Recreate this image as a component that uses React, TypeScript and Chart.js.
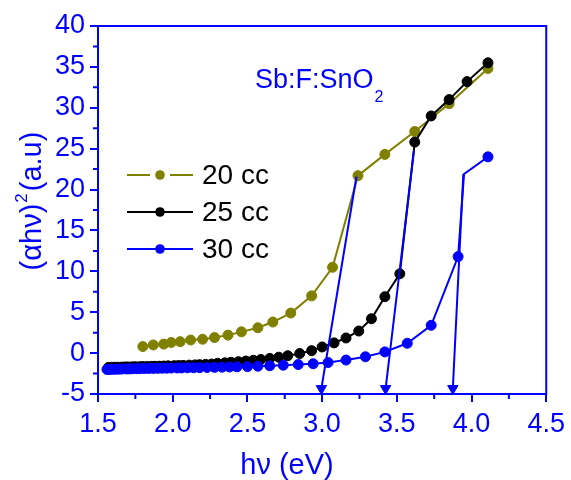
import React, { useEffect, useRef } from "react";
import { Chart, registerables } from "chart.js";

Chart.register(...registerables);

// ---------- data ----------
const energy20 = [1.80, 1.87, 1.94, 1.99, 2.05, 2.12, 2.20, 2.28, 2.37, 2.46, 2.57, 2.67, 2.79, 2.93, 3.07, 3.24, 3.42, 3.62, 3.85, 4.11];
const values20 = [0.8, 1.0, 1.1, 1.3, 1.4, 1.6, 1.7, 1.9, 2.2, 2.6, 3.1, 3.8, 4.9, 7.0, 10.5, 21.7, 24.3, 27.1, 30.5, 34.8];

const energy25 = [1.57, 1.59, 1.61, 1.63, 1.66, 1.68, 1.70, 1.73, 1.75, 1.78, 1.80, 1.83, 1.86, 1.88, 1.91, 1.94, 1.97, 2.01, 2.04, 2.07, 2.11, 2.15, 2.18, 2.22, 2.26, 2.30, 2.35, 2.39, 2.44, 2.49, 2.54, 2.59, 2.65, 2.71, 2.77, 2.85, 2.93, 3.00, 3.08, 3.16, 3.245, 3.33, 3.42, 3.52, 3.62, 3.73, 3.85, 3.97, 4.11];
const values25 = [-1.75, -1.74, -1.73, -1.72, -1.71, -1.70, -1.69, -1.68, -1.67, -1.66, -1.65, -1.64, -1.62, -1.61, -1.60, -1.58, -1.56, -1.54, -1.52, -1.50, -1.47, -1.44, -1.41, -1.38, -1.34, -1.25, -1.19, -1.12, -1.05, -0.97, -0.88, -0.78, -0.65, -0.50, -0.32, -0.05, 0.3, 0.75, 1.25, 1.85, 2.7, 4.2, 6.9, 9.7, 25.8, 29.0, 31.0, 33.2, 35.5];

const energy30 = [1.56, 1.58, 1.60, 1.62, 1.64, 1.66, 1.69, 1.71, 1.73, 1.76, 1.78, 1.81, 1.84, 1.87, 1.90, 1.93, 1.96, 1.99, 2.03, 2.06, 2.10, 2.14, 2.18, 2.23, 2.28, 2.33, 2.38, 2.43, 2.50, 2.57, 2.65, 2.74, 2.84, 2.94, 3.04, 3.16, 3.29, 3.42, 3.57, 3.73, 3.91, 3.95, 4.11];
const values30 = [-2.0, -2.0, -1.98, -1.97, -1.96, -1.95, -1.94, -1.93, -1.92, -1.91, -1.90, -1.89, -1.88, -1.87, -1.86, -1.85, -1.84, -1.83, -1.82, -1.81, -1.80, -1.79, -1.78, -1.76, -1.74, -1.72, -1.70, -1.68, -1.65, -1.60, -1.55, -1.48, -1.40, -1.30, -1.15, -0.85, -0.45, 0.15, 1.2, 3.4, 11.8, 21.9, 24.0];
const cornerIndex30 = 41; // line corner drawn without a symbol

// band-gap extrapolation lines (arrow foot, top end)
const tangent20X = [2.995, 3.23];
const tangent20Y = [-4.33, 21.6];
const tangent25X = [3.425, 3.615];
const tangent25Y = [-4.33, 24.8];
const tangent30X = [3.875, 3.945];
const tangent30Y = [-4.33, 21.9];

const seriesLabels = ["20 cc", "25 cc", "30 cc"];
const xMin = 1.5, xMax = 4.5, xStep = 0.5;
const yMin = -5, yMax = 40, yStep = 5;
const xMinorTicks = [1.75, 2.25, 2.75, 3.25, 3.75, 4.25];
const yMinorTicks = [-2.5, 2.5, 7.5, 12.5, 17.5, 22.5, 27.5, 32.5, 37.5];

// ---------- styles ----------
const BLUE = "#0000FF";
const OLIVE = "#808000";
const BLACK = "#000000";
const FONT = "'Liberation Sans', Arial, Helvetica, sans-serif";

const pts = (xs: number[], ys: number[]) => xs.map((x, i) => ({ x, y: ys[i] }));

export default function App() {
  const ref = useRef<HTMLCanvasElement | null>(null);

  useEffect(() => {
    document.body.style.margin = "0";
    const canvas = ref.current;
    if (!canvas) return;

    const decor = {
      id: "decor",
      afterDraw(chart: any) {
        const { ctx, chartArea: a, scales } = chart;
        ctx.save();
        // frame
        ctx.strokeStyle = BLUE;
        ctx.lineWidth = 2;
        ctx.strokeRect(a.left, a.top, a.right - a.left, a.bottom - a.top);
        // minor ticks
        ctx.beginPath();
        for (const v of xMinorTicks) {
          const px = scales.x.getPixelForValue(v);
          ctx.moveTo(px, a.bottom);
          ctx.lineTo(px, a.bottom + 5);
        }
        for (const v of yMinorTicks) {
          const py = scales.y.getPixelForValue(v);
          ctx.moveTo(a.left, py);
          ctx.lineTo(a.left - 5, py);
        }
        ctx.stroke();

        // legend
        const legendColors = [OLIVE, BLACK, BLUE];
        const rows = [175, 212, 249];
        rows.forEach((y, i) => {
          ctx.strokeStyle = legendColors[i];
          ctx.fillStyle = legendColors[i];
          ctx.lineWidth = 2;
          ctx.beginPath();
          if (i === 0) {
            ctx.moveTo(127, y); ctx.lineTo(150, y);
            ctx.moveTo(170, y); ctx.lineTo(193, y);
          } else {
            ctx.moveTo(127, y); ctx.lineTo(193, y);
          }
          ctx.stroke();
          ctx.beginPath();
          ctx.arc(160, y, 4.8, 0, Math.PI * 2);
          ctx.fill();
          ctx.fillStyle = BLACK;
          ctx.font = `28px ${FONT}`;
          ctx.textAlign = "left";
          ctx.textBaseline = "middle";
          ctx.fillText(seriesLabels[i], 202, y + 1);
        });

        // annotation
        ctx.fillStyle = BLUE;
        ctx.textBaseline = "alphabetic";
        ctx.textAlign = "left";
        ctx.font = `27px ${FONT}`;
        const ann = "Sb:F:SnO";
        ctx.fillText(ann, 255, 88);
        const aw = ctx.measureText(ann).width;
        ctx.font = `16px ${FONT}`;
        ctx.fillText("2", 255 + aw + 1, 102);

        // x title
        ctx.font = `29px ${FONT}`;
        ctx.textAlign = "center";
        ctx.fillText("h\u03BD (eV)", 287, 474);

        // y title (rotated)
        ctx.save();
        ctx.translate(41, 201);
        ctx.rotate(-Math.PI / 2);
        ctx.textAlign = "left";
        ctx.font = `29px ${FONT}`;
        const p1 = "(\u03B1h\u03BD)";
        const p3 = "(a.u)";
        const w1 = ctx.measureText(p1).width;
        const w3 = ctx.measureText(p3).width;
        ctx.font = `17px ${FONT}`;
        const w2 = ctx.measureText("2").width;
        const total = w1 + w2 + 3 + w3;
        let sx = -total / 2;
        ctx.font = `29px ${FONT}`;
        ctx.fillText(p1, sx, 0);
        sx += w1 + 1;
        ctx.font = `17px ${FONT}`;
        ctx.fillText("2", sx, -14);
        sx += w2 + 2;
        ctx.font = `29px ${FONT}`;
        ctx.fillText(p3, sx, 0);
        ctx.restore();

        ctx.restore();
      },
    };

    const tangent = (xs: number[], ys: number[]) => ({
      data: pts(xs, ys),
      showLine: true,
      borderColor: BLUE,
      backgroundColor: BLUE,
      borderWidth: 2,
      pointStyle: "triangle",
      pointRotation: 180,
      pointRadius: (c: any) => (c.dataIndex === 0 ? 6 : 0),
      pointBorderWidth: 1,
      pointBorderColor: BLUE,
      pointBackgroundColor: BLUE,
      clip: false,
    });

    const series = (xs: number[], ys: number[], color: string, hidden?: number) => ({
      data: pts(xs, ys),
      showLine: true,
      borderColor: color,
      backgroundColor: color,
      borderWidth: 2,
      pointRadius: (c: any) => (c.dataIndex === hidden ? 0 : 5),
      pointBorderWidth: 1,
      pointBorderColor: color,
      pointBackgroundColor: color,
    });

    const chart = new Chart(canvas, {
      type: "scatter",
      data: {
        datasets: [
          tangent(tangent20X, tangent20Y),
          tangent(tangent25X, tangent25Y),
          tangent(tangent30X, tangent30Y),
          series(energy30, values30, BLUE, cornerIndex30),
          series(energy25, values25, BLACK),
          series(energy20, values20, OLIVE),
        ] as any,
      },
      options: {
        animation: false,
        responsive: false,
        devicePixelRatio: 1,
        layout: { padding: { top: 26, right: 24, left: 0, bottom: 0 } },
        plugins: { legend: { display: false }, tooltip: { enabled: false } },
        scales: {
          x: {
            type: "linear",
            min: xMin,
            max: xMax,
            afterFit: (s: any) => { s.height = 86; },
            grid: { drawOnChartArea: false, drawTicks: true, tickLength: 8, color: BLUE, lineWidth: 2 },
            border: { display: true, color: BLUE, width: 2 },
            ticks: {
              stepSize: xStep,
              color: BLUE,
              padding: 6,
              font: { family: FONT, size: 27 },
              maxRotation: 0,
              callback: (v: any) => Number(v).toFixed(1),
            },
          },
          y: {
            type: "linear",
            min: yMin,
            max: yMax,
            afterFit: (s: any) => { s.width = 98; },
            grid: { drawOnChartArea: false, drawTicks: true, tickLength: 8, color: BLUE, lineWidth: 2 },
            border: { display: true, color: BLUE, width: 2 },
            ticks: {
              stepSize: yStep,
              color: BLUE,
              padding: 5,
              font: { family: FONT, size: 27 },
              callback: (v: any) => String(v),
            },
          },
        },
      },
      plugins: [decor],
    } as any);

    return () => chart.destroy();
  }, []);

  return (
    <div style={{ width: 571, height: 480 }}>
      <canvas ref={ref} width={571} height={480} />
    </div>
  );
}
